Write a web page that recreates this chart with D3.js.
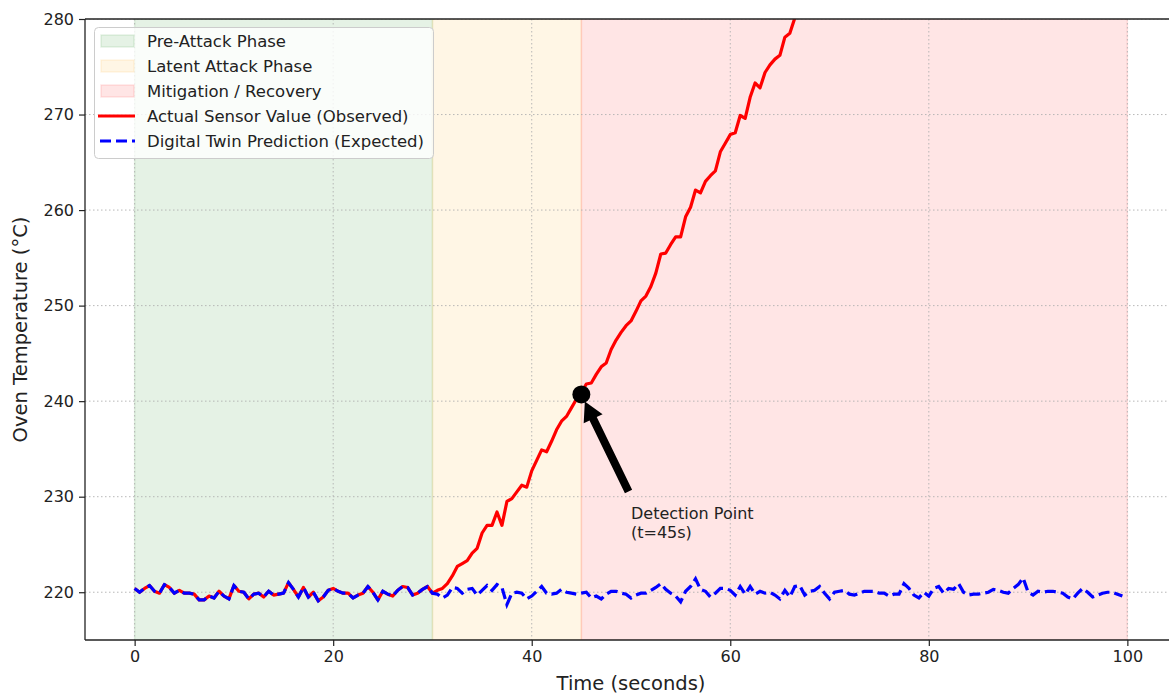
<!DOCTYPE html>
<html><head><meta charset="utf-8">
<script src="https://cdn.jsdelivr.net/npm/d3@7"></script>
<style>html,body{margin:0;padding:0;background:#fff;} svg{display:block;font-family:"DejaVu Sans",sans-serif;}</style>
</head><body><svg id="c" width="1169" height="694"></svg>
<script>
// ---- data ----
const sampleTimes = d3.range(0, 100, 0.5); // sampling grid (s)
const expectedTemp = [
220.4,220.0,220.4,220.7,220.1,219.9,220.8,220.5,219.9,220.2,
219.9,219.9,219.8,219.2,219.2,219.6,219.4,220.1,219.6,219.3,
220.7,220.1,220.0,219.3,219.8,219.9,219.5,220.1,219.7,219.8,
219.9,221.0,220.3,219.5,220.5,219.5,220.0,219.1,219.5,220.2,
220.4,220.1,219.9,219.9,219.4,219.7,219.9,220.6,220.0,219.2,
220.1,219.8,219.6,220.2,220.6,220.5,219.7,219.9,220.3,220.6,
219.9,219.8,219.4,219.7,220.5,220.4,219.9,220.3,220.4,219.7,
220.2,220.7,220.2,220.8,220.5,218.7,219.9,220.0,219.9,219.3,
219.6,220.1,220.6,219.9,219.8,219.9,220.3,220.0,219.9,219.8,
219.9,220.0,219.4,219.6,219.3,219.8,220.1,220.1,219.9,219.8,
219.4,219.7,219.9,219.9,220.2,220.5,220.9,220.3,219.9,219.6,
219.0,220.1,220.6,221.4,220.3,220.1,219.5,219.9,220.4,220.4,
220.2,219.7,220.6,219.8,220.6,219.8,220.1,219.9,220.0,219.7,
219.3,220.2,219.5,220.6,220.7,219.7,220.1,220.2,220.6,219.9,
219.3,220.0,220.1,220.2,219.8,219.7,219.9,220.1,220.1,220.1,
219.9,219.9,219.6,219.8,219.8,220.9,220.4,219.7,219.4,220.0,
219.6,220.4,220.6,219.9,220.4,220.3,220.9,220.0,219.7,219.8,
219.8,219.9,220.0,220.3,220.2,220.0,219.9,220.4,220.8,221.5,
220.0,219.7,220.1,220.0,220.1,220.1,220.0,219.9,219.5,219.3,
219.9,220.4,220.0,219.5,219.7,219.9,220.0,220.0,219.8,219.6];
const actualTemp = [
220.4,220.0,220.4,220.7,220.1,219.9,220.8,220.5,219.9,220.2,
219.9,219.9,219.8,219.2,219.2,219.6,219.4,220.1,219.6,219.3,
220.7,220.1,220.0,219.3,219.8,219.9,219.5,220.1,219.7,219.8,
219.9,221.0,220.3,219.5,220.5,219.5,220.0,219.1,219.5,220.2,
220.4,220.1,219.9,219.9,219.4,219.7,219.9,220.6,220.0,219.2,
220.1,219.8,219.6,220.2,220.6,220.5,219.7,219.9,220.3,220.6,
219.9,220.2,220.4,220.9,221.7,222.7,223.0,223.3,224.1,224.6,
226.2,227.0,227.0,228.4,227.0,229.5,229.8,230.5,231.2,231.0,
232.7,233.8,234.9,234.7,235.8,237.0,237.9,238.4,239.3,240.2,
240.9,241.8,241.9,242.8,243.6,244.0,245.4,246.4,247.2,247.9,
248.4,249.4,250.5,251.0,252.0,253.4,255.4,255.5,256.4,257.2,
257.2,259.3,260.3,262.1,261.8,263.0,263.6,264.1,266.1,267.0,
267.9,268.1,269.9,269.6,271.8,273.3,272.8,274.4,275.2,275.8,
276.2,278.1,278.5,280.1,281.6,282.4];
const phaseNames = ["Pre-Attack Phase", "Latent Attack Phase", "Mitigation / Recovery"];
const phaseStart = [0, 30, 45];
const phaseEnd = [30, 45, 100];
const phaseColors = ["green", "orange", "red"];
const seriesNames = ["Actual Sensor Value (Observed)", "Digital Twin Prediction (Expected)"];
const xTicks = [0, 20, 40, 60, 80, 100];
const yTicks = [220, 230, 240, 250, 260, 270, 280];
const detection = {t: 45, v: 240.7, textT: 50, textV: 230, label: ["Detection Point", "(t=45s)"]};

// ---- layout ----
const svg = d3.select("#c");
const L = 85, R = 1177, T = 19, B = 640;
const x = d3.scaleLinear().domain([-5, 105]).range([L, R]);
const y = d3.scaleLinear().domain([215, 280]).range([B, T]);

svg.append("defs").append("clipPath").attr("id", "clip")
  .append("rect").attr("x", L).attr("y", T).attr("width", R - L).attr("height", B - T);

const plot = svg.append("g").attr("clip-path", "url(#clip)");

// spans
phaseNames.forEach((n, i) => {
  plot.append("rect")
    .attr("x", x(phaseStart[i])).attr("y", T)
    .attr("width", x(phaseEnd[i]) - x(phaseStart[i])).attr("height", B - T)
    .attr("fill", phaseColors[i]).attr("fill-opacity", 0.1)
    .attr("stroke", phaseColors[i]).attr("stroke-opacity", 0.1).attr("stroke-width", 1.5);
});

// grid
const grid = plot.append("g").attr("stroke", "#b0b0b0").attr("stroke-width", 1)
  .attr("stroke-dasharray", "1.5,2.5").attr("stroke-opacity", 0.9);
xTicks.forEach(v => grid.append("line").attr("x1", x(v)).attr("x2", x(v)).attr("y1", T).attr("y2", B));
yTicks.forEach(v => grid.append("line").attr("x1", L).attr("x2", R).attr("y1", y(v)).attr("y2", y(v)));

// lines
const line = d3.line().x(d => x(d[0])).y(d => y(d[1]));
plot.append("path").datum(actualTemp.map((v, i) => [sampleTimes[i], v]))
  .attr("d", line).attr("fill", "none").attr("stroke", "#ff0000").attr("stroke-width", 3.2)
  .attr("stroke-linejoin", "round");
plot.append("path").datum(expectedTemp.map((v, i) => [sampleTimes[i], v]))
  .attr("d", line).attr("fill", "none").attr("stroke", "#0000ff").attr("stroke-width", 3.2)
  .attr("stroke-dasharray", "11,5");

// axes
const xAxis = d3.axisBottom(x).tickValues(xTicks).tickSize(6).tickPadding(5).tickFormat(d3.format("d"));
const yAxis = d3.axisLeft(y).tickValues(yTicks).tickSize(6).tickPadding(5).tickFormat(d3.format("d"));
const gx = svg.append("g").attr("transform", `translate(0,${B})`).call(xAxis);
const gy = svg.append("g").attr("transform", `translate(${L},0)`).call(yAxis);
[gx, gy].forEach(g => {
  g.select(".domain").remove();
  g.selectAll(".tick line").attr("stroke", "#222").attr("stroke-width", 1.2);
  g.selectAll(".tick text").attr("fill", "#222").style("font-size", "16px").style("font-family", "DejaVu Sans");
});
// spines
svg.append("line").attr("x1", L).attr("x2", L).attr("y1", T).attr("y2", B).attr("stroke", "#222").attr("stroke-width", 1.3);
svg.append("line").attr("x1", L).attr("x2", R).attr("y1", B).attr("y2", B).attr("stroke", "#222").attr("stroke-width", 1.3);
svg.append("line").attr("x1", L).attr("x2", R).attr("y1", T).attr("y2", T).attr("stroke", "#222").attr("stroke-width", 1.3);

// axis labels
svg.append("text").attr("x", (L + R) / 2).attr("y", 690).attr("text-anchor", "middle")
  .style("font-size", "19.5px").attr("fill", "#222").text("Time (seconds)");
svg.append("text").attr("transform", `translate(27,${(T + B) / 2}) rotate(-90)`).attr("text-anchor", "middle")
  .style("font-size", "19.5px").attr("fill", "#222").text("Oven Temperature (°C)");

// detection annotation
const px = x(detection.t), py = y(detection.v);
const tx = x(detection.textT), ty = y(detection.textV);
svg.append("circle").attr("cx", px).attr("cy", py).attr("r", 9).attr("fill", "#000");
{
  const dx = px - tx, dy = py - ty, len = Math.hypot(dx, dy);
  const ux = dx / len, uy = dy / len, nx = -uy, ny = ux;
  const sx = tx + ux * len * 0.05, sy = ty + uy * len * 0.05 + 0;
  const ex = px - ux * len * 0.07, ey = py - uy * len * 0.07;
  const hl = 19, hw = 10.5, sw = 4;
  const bx = ex - ux * hl, by = ey - uy * hl;
  const pts = [
    [sx + nx * sw, sy + ny * sw], [bx + nx * sw, by + ny * sw], [bx + nx * hw, by + ny * hw],
    [ex, ey], [bx - nx * hw, by - ny * hw], [bx - nx * sw, by - ny * sw], [sx - nx * sw, sy - ny * sw]];
  svg.append("polygon").attr("points", pts.map(p => p.join(",")).join(" ")).attr("fill", "#000");
}
const at = svg.append("text").attr("x", tx).attr("y", ty + 22).style("font-size", "16px").attr("fill", "#222");
detection.label.forEach((s, i) => at.append("tspan").attr("x", tx).attr("dy", i ? 19.5 : 0).text(s));

// legend
const lg = svg.append("g");
lg.append("rect").attr("x", 94.5).attr("y", 27.5).attr("width", 339).attr("height", 131).attr("rx", 4)
  .attr("fill", "#fff").attr("fill-opacity", 0.8).attr("stroke", "#cccccc").attr("stroke-width", 1);
const rowY = i => 41 + i * 25;
phaseNames.forEach((n, i) => {
  lg.append("rect").attr("x", 101).attr("y", rowY(i) - 6).attr("width", 33).attr("height", 12)
    .attr("fill", phaseColors[i]).attr("fill-opacity", 0.1)
    .attr("stroke", phaseColors[i]).attr("stroke-opacity", 0.1).attr("stroke-width", 1.5);
  lg.append("text").attr("x", 147).attr("y", rowY(i) + 5.5).style("font-size", "16.5px").attr("fill", "#222").text(n);
});
lg.append("line").attr("x1", 98).attr("x2", 135).attr("y1", rowY(3)).attr("y2", rowY(3))
  .attr("stroke", "#ff0000").attr("stroke-width", 3.2);
lg.append("line").attr("x1", 100).attr("x2", 135).attr("y1", rowY(4)).attr("y2", rowY(4))
  .attr("stroke", "#0000ff").attr("stroke-width", 3.2).attr("stroke-dasharray", "11,5");
seriesNames.forEach((n, i) => {
  lg.append("text").attr("x", 147).attr("y", rowY(3 + i) + 5.5).style("font-size", "16.5px").attr("fill", "#222").text(n);
});
</script></body></html>
